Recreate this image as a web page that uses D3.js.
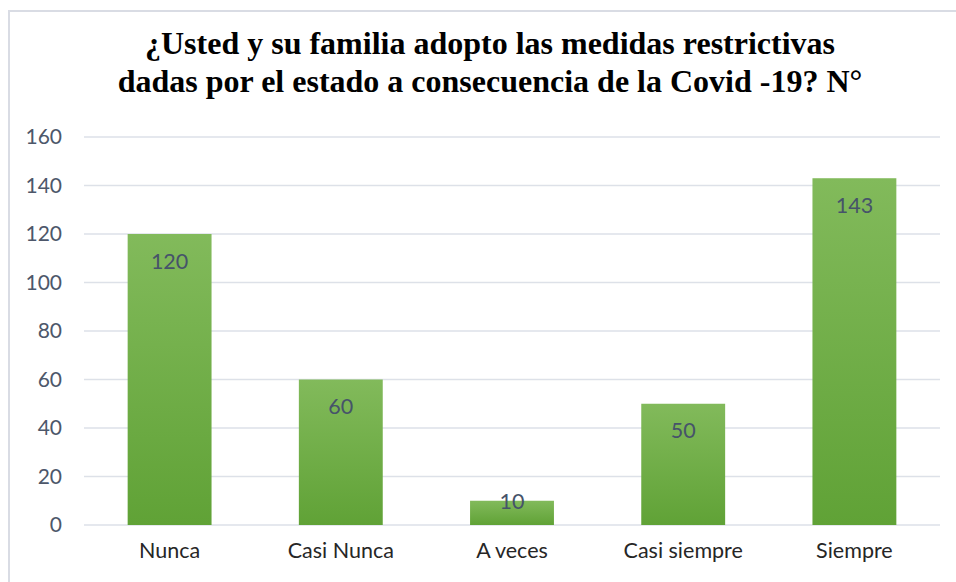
<!DOCTYPE html>
<meta charset="utf-8">
<style>
    body { margin: 0; background: #fff; }
    svg { display: block; }
</style>
<script src="https://d3js.org/d3.v7.min.js"></script>
<svg id="chart" width="956" height="582"></svg>
<script>
    // data
    var categories = ["Nunca", "Casi Nunca", "A veces", "Casi siempre", "Siempre"];
    var values = [120, 60, 10, 50, 143];
    var yTicks = [0, 20, 40, 60, 80, 100, 120, 140, 160];
    var titleLines = ["¿Usted y su familia adopto las medidas restrictivas",
                      "dadas por el estado a consecuencia de la Covid -19? N°"];

    var svg = d3.select("#chart"),
        width = +svg.attr("width"),
        height = +svg.attr("height");

    var margin = {left: 84, right: 16, top: 137, bottom: 57};

    // gradient for the bars
    var grad = svg.append("defs").append("linearGradient")
        .attr("id", "barGrad")
        .attr("x1", 0).attr("y1", 0).attr("x2", 0).attr("y2", 1);
    grad.append("stop").attr("offset", "0%").attr("stop-color", "#82ba5b");
    grad.append("stop").attr("offset", "100%").attr("stop-color", "#60a236");

    // frame (only left and top visible)
    svg.append("path")
        .attr("d", "M9,582 V11 H956")
        .attr("fill", "none")
        .attr("stroke", "#d9dce4")
        .attr("stroke-width", 2);

    var x = d3.scaleBand()
        .domain(categories)
        .range([margin.left, width - margin.right])
        .paddingInner(0.51)
        .paddingOuter(0.255);

    var y = d3.scaleLinear()
        .domain([0, 160])
        .range([height - margin.bottom, margin.top]);

    // gridlines
    svg.append("g")
        .selectAll("line")
        .data(yTicks)
        .enter().append("line")
        .attr("x1", margin.left)
        .attr("x2", width - margin.right)
        .attr("y1", function(d) { return y(d); })
        .attr("y2", function(d) { return y(d); })
        .attr("stroke", "#dde1e8")
        .attr("stroke-width", 1.5);

    // y axis labels
    var yAxis = d3.axisLeft(y).tickValues(yTicks).tickSize(0).tickPadding(0);
    var gy = svg.append("g")
        .attr("transform", "translate(62,0)")
        .call(yAxis);
    gy.select(".domain").remove();
    gy.selectAll("text")
        .attr("font-family", "Lato, 'Open Sans', sans-serif")
        .attr("font-size", 21)
        .attr("fill", "#4d576a");

    // x axis labels
    var xAxis = d3.axisBottom(x).tickSize(0).tickPadding(0);
    var gx = svg.append("g")
        .attr("transform", "translate(0,543)")
        .call(xAxis);
    gx.select(".domain").remove();
    gx.selectAll("text")
        .attr("font-family", "Lato, 'Open Sans', sans-serif")
        .attr("font-size", 21.5)
        .attr("fill", "#262626");

    // bars
    svg.append("g")
        .selectAll("rect")
        .data(values)
        .enter().append("rect")
        .attr("x", function(d, i) { return x(categories[i]); })
        .attr("width", x.bandwidth())
        .attr("y", function(d) { return y(d); })
        .attr("height", function(d) { return y(0) - y(d); })
        .attr("fill", "url(#barGrad)");

    // value labels
    svg.append("g")
        .selectAll("text")
        .data(values)
        .enter().append("text")
        .attr("x", function(d, i) { return x(categories[i]) + x.bandwidth() / 2; })
        .attr("y", function(d) {
            var h = y(0) - y(d);
            return h > 50 ? y(d) + 27 : y(d) + 1;
        })
        .attr("dy", "0.35em")
        .attr("text-anchor", "middle")
        .attr("font-family", "Lato, 'Open Sans', sans-serif")
        .attr("font-size", 21.5)
        .attr("fill", "#46536a")
        .text(function(d) { return d; });

    // title
    svg.append("g")
        .selectAll("text")
        .data(titleLines)
        .enter().append("text")
        .attr("x", 490)
        .attr("y", function(d, i) { return 54 + i * 38; })
        .attr("text-anchor", "middle")
        .attr("font-family", "'Liberation Serif', 'Times New Roman', serif")
        .attr("font-weight", "bold")
        .attr("font-size", 32)
        .attr("fill", "#000")
        .text(function(d) { return d; });
</script>
